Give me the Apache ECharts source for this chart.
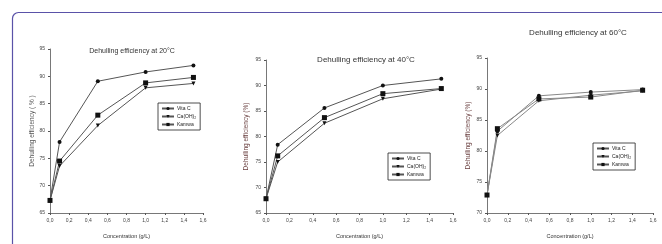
<!DOCTYPE html>
<html>
<head>
<meta charset="utf-8">
<script src="https://cdn.jsdelivr.net/npm/echarts@6/dist/echarts.min.js"></script>
<style>
  html, body { margin: 0; padding: 0; background: #fff; }
  #chart { width: 662px; height: 244px; }
</style>
</head>
<body>
<div id="chart"></div>
<script>
// concentration (g/L)
const conc = [0, 0.1, 0.5, 1.0, 1.5];
const seriesNames = ["Vita C", "Ca(OH)₂", "Kamwa"];
const symbols = ["circle", "triangle", "rect"];

// dehulling efficiency (%) at 20°C
const vitaC20 = [67.3, 78.0, 89.1, 90.8, 92.0];
const caoh20 = [67.3, 73.6, 81.0, 87.9, 88.7];
const kamwa20 = [67.3, 74.5, 82.9, 88.8, 89.8];
// at 40°C
const vitaC40 = [67.8, 78.4, 85.6, 90.0, 91.3];
const caoh40 = [67.8, 75.0, 82.6, 87.4, 89.3];
const kamwa40 = [67.8, 76.2, 83.7, 88.4, 89.4];
// at 60°C
const vitaC60 = [72.9, 83.2, 88.9, 89.5, 89.9];
const caoh60 = [72.9, 82.5, 88.1, 89.0, 89.7];
const kamwa60 = [72.9, 83.6, 88.4, 88.7, 89.8];

const titles = ["Dehulling efficiency at 20°C", "Dehulling efficiency at 40°C", "Dehulling efficiency at 60°C"];
const yNames = ["Dehulling efficiency ( % )", "Dehulling efficiency (%)", "Dehulling efficiency (%)"];
const xName = "Concentration (g/L)";
const yMin = [65, 65, 70];
const yMax = [95, 95, 95];

const font = "'Liberation Sans Narrow', 'Liberation Sans', Arial, sans-serif";
const grids = [
  { left: 50, top: 49, width: 153, height: 170 },
  { left: 266, top: 60, width: 187, height: 161 },
  { left: 487, top: 58, width: 166, height: 163 },
];
const data = [
  [vitaC20, caoh20, kamwa20],
  [vitaC40, caoh40, kamwa40],
  [vitaC60, caoh60, kamwa60],
];
const titlePos = [
  { left: 127, top: 43 },
  { left: 361, top: 51 },
  { left: 573, top: 24 },
];
const legendPos = [
  { left: 158, top: 103 },
  { left: 388, top: 153 },
  { left: 593, top: 143 },
];
const lineColors = ["#555", "#555", "#888"];
const yNameColors = ["#555", "#6a4040", "#6a4040"];
const yNameGaps = [13, 16, 15];

const fmt = (v) => v.toFixed(1).replace(".", ",");

const myChart = echarts.init(document.getElementById("chart"), null, { renderer: "canvas" });

const option = {
  animation: false,
  textStyle: { fontFamily: font },
  title: titles.map((t, i) => ({
    text: t,
    left: titlePos[i].left,
    top: titlePos[i].top,
    textAlign: "center",
    textStyle: { fontSize: i === 0 ? 7 : 8, fontWeight: "normal", color: "#333", fontFamily: font },
  })),
  legend: legendPos.map((p) => ({
    data: seriesNames,
    orient: "vertical",
    left: p.left,
    top: p.top,
    itemWidth: 12,
    itemHeight: 4,
    itemGap: 3,
    padding: [3, 4, 3, 3],
    borderColor: "#222",
    borderWidth: 0.8,
    textStyle: { fontSize: 5, color: "#222", fontFamily: font, padding: [0, 0, 0, -2] },
  })),
  grid: grids,
  xAxis: grids.map((g, i) => ({
    type: "value",
    gridIndex: i,
    min: 0,
    max: 1.6,
    interval: 0.2,
    name: xName,
    nameLocation: "middle",
    nameGap: 20,
    nameTextStyle: { fontSize: 5.5, color: "#333" },
    axisLine: { lineStyle: { color: "#555", width: 0.8 } },
    axisTick: { length: 2, lineStyle: { color: "#555" } },
    axisLabel: { fontSize: 5, color: "#444", margin: 5, formatter: fmt },
    splitLine: { show: false },
  })),
  yAxis: grids.map((g, i) => ({
    type: "value",
    gridIndex: i,
    min: yMin[i],
    max: yMax[i],
    interval: 5,
    name: yNames[i],
    nameLocation: "middle",
    nameGap: yNameGaps[i],
    nameTextStyle: { fontSize: 6.5, color: yNameColors[i] },
    axisLine: { show: true, lineStyle: { color: "#555", width: 0.8 } },
    axisTick: { show: true, length: 2, lineStyle: { color: "#555" } },
    axisLabel: { fontSize: 5, color: "#444", margin: 5 },
    splitLine: { show: false },
  })),
  series: [],
  graphic: [
    {
      type: "rect",
      shape: { x: 12.5, y: 12.5, width: 700, height: 300, r: 6 },
      style: { fill: "none", stroke: "#5a52a8", lineWidth: 1.2 },
    },
  ],
};

data.forEach((panel, i) => {
  panel.forEach((vals, k) => {
    option.series.push({
      name: seriesNames[k],
      type: "line",
      xAxisIndex: i,
      yAxisIndex: i,
      data: conc.map((c, j) => [c, vals[j]]),
      symbol: symbols[k],
      symbolRotate: k === 1 ? 180 : 0,
      symbolSize: k === 2 ? 5 : 4,
      itemStyle: { color: "#111" },
      lineStyle: { color: lineColors[i], width: 1 },
    });
  });
});

myChart.setOption(option);
</script>
</body>
</html>
